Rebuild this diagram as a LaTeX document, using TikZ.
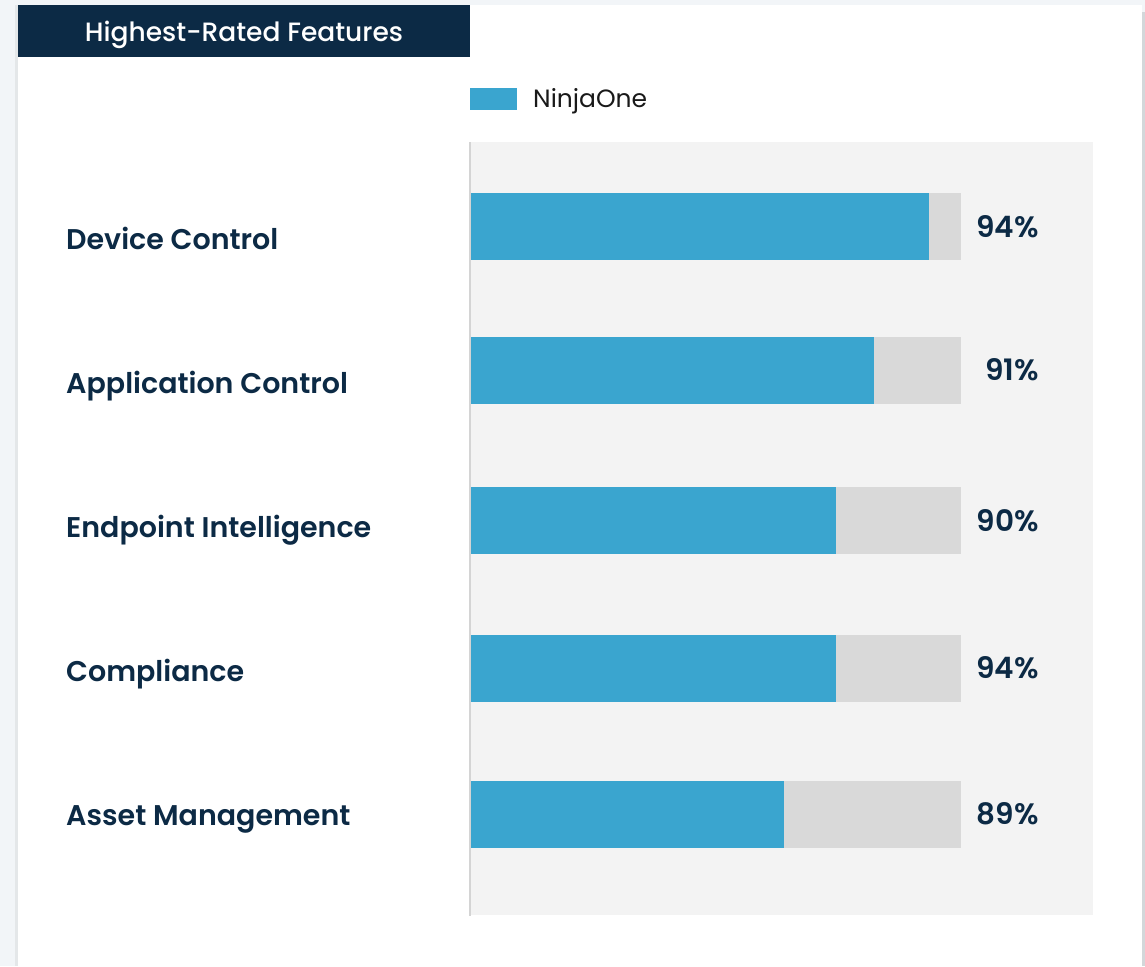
\documentclass[tikz,border=0pt]{standalone}
\usepackage{fontspec}
\setmainfont{Poppins}[BoldFont={Poppins SemiBold}]
\newfontfamily\titlefont{Poppins Medium}
\usepackage{tikz}
\usetikzlibrary{positioning}
\definecolor{pageBack}{HTML}{F2F5F8}
\definecolor{cardEdge}{HTML}{D3D7DA}
\definecolor{ninjaNavy}{HTML}{0C2A45}
\definecolor{ninjaBlue}{HTML}{3AA5CF}
\definecolor{plotBack}{HTML}{F3F3F3}
\definecolor{trackGray}{HTML}{D9D9D9}
\definecolor{axisGray}{HTML}{D4D4D4}
\newcommand{\featfont}{\fontsize{28.5}{34}\selectfont\bfseries}
\tikzset{
  feature/.style = {anchor = base west, inner sep = 0pt, text = ninjaNavy, font = \featfont},
  score/.style = {anchor = base east, inner sep = 0pt, text = ninjaNavy, font = \fontsize{29.5}{34}\selectfont\bfseries},
  track/.style = {fill = trackGray},
  ninjabar/.style = {fill = ninjaBlue}
}

\begin{document}
\begin{tikzpicture}[x = 1pt, y = -1pt]
  \useasboundingbox (0, 0) rectangle (1145, 966);
  % page and card
  \fill [pageBack] (0, 0) rectangle (1145, 966);
  \fill [white] (18, 5) rectangle (1142, 966);
  \fill [cardEdge] (1142, 12) rectangle (1145, 966);
  \fill [cardEdge!60] (15, 5) rectangle (18, 966);
  % title tab
  \fill [ninjaNavy] (18, 5) rectangle (470, 57);
  \node (title) at (244, 42) [anchor = base, inner sep = 0pt, text = white,
    font = \fontsize{26.5}{31}\titlefont] {Highest-Rated Features};
  % legend
  \fill [ninjabar] (470, 88) rectangle (517, 110);
  \node (legend) at (533, 107) [anchor = base west, inner sep = 0pt, text = black!90,
    font = \fontsize{25}{30}\selectfont] {NinjaOne};
  % plot area
  \fill [plotBack] (470, 142) rectangle (1093, 915);
  \fill [track] (470, 193) rectangle (961, 260);
  \fill [track] (470, 337) rectangle (961, 404);
  \fill [track] (470, 487) rectangle (961, 554);
  \fill [track] (470, 635) rectangle (961, 702);
  \fill [track] (470, 781) rectangle (961, 848);
  \fill [ninjabar] (470, 193) rectangle (929, 260);
  \fill [ninjabar] (470, 337) rectangle (874, 404);
  \fill [ninjabar] (470, 487) rectangle (836, 554);
  \fill [ninjabar] (470, 635) rectangle (836, 702);
  \fill [ninjabar] (470, 781) rectangle (784, 848);
  \coordinate (AT) at (470, 142);
  \coordinate (AB) at (470, 916);
  \draw [axisGray, line width = 2pt] (AT) -- (AB);
  % feature names
  \node (DC) at (66, 249) [feature] {Device Control};
  \node (AC) at (66, 393) [feature] {Application Control};
  \node (EI) at (66, 537) [feature] {Endpoint Intelligence};
  \node (CO) at (66, 681) [feature] {Compliance};
  \node (AM) at (66, 825) [feature] {Asset Management};
  % scores
  \node (DCs) at (1039, 237) [score] {94\%};
  \node (ACs) at (1039, 380) [score] {91\%};
  \node (EIs) at (1039, 531) [score] {90\%};
  \node (COs) at (1039, 678) [score] {94\%};
  \node (AMs) at (1039, 824) [score] {89\%};
\end{tikzpicture}
\end{document}
